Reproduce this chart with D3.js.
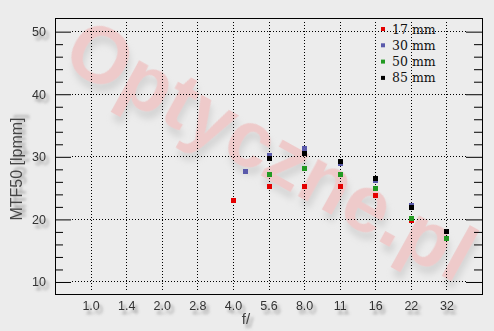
<!DOCTYPE html>
<html>
<head>
<meta charset="utf-8">
<script src="https://cdn.jsdelivr.net/npm/d3@7"></script>
<style>
  body { margin: 0; background: #ececec; }
  svg { display: block; }
</style>
</head>
<body>
<svg width="494" height="331"></svg>
<script>
// f-stop tick labels (evenly spaced, 1/2 stop apart on a log axis)
var fLabels = ['1.0', '1.4', '2.0', '2.8', '4.0', '5.6', '8.0', '11', '16', '22', '32'];

var series = ['17 mm', '30 mm', '50 mm', '85 mm'];
var colors = ['#e40000', '#5a5aab', '#229a22', '#000000'];

// apertures and MTF50 values for each focal length
var f17 = [4.0, 5.6, 8.0, 11, 16, 22];
var v17 = [23.0, 25.2, 25.2, 25.2, 23.8, 19.8];
var f30 = [4.5, 5.6, 8.0, 11, 16, 22];
var v30 = [27.6, 30.2, 31.3, 28.9, 26.2, 22.2];
var f50 = [5.6, 8.0, 11, 16, 22, 32];
var v50 = [27.1, 28.2, 27.1, 25.0, 20.2, 17.0];
var f85 = [5.6, 8.0, 11, 16, 22, 32];
var v85 = [29.8, 30.5, 29.3, 26.6, 21.9, 18.0];

var yMajor = [10, 20, 30, 40, 50];

(function() {
    var svg = d3.select('svg');
    var left = 55, right = 482, top = 18, bottom = 294;

    var defs = svg.append('defs');
    var sh = defs.append('filter').attr('id', 'shadow')
        .attr('x', '-30%').attr('y', '-30%').attr('width', '180%').attr('height', '180%');
    sh.append('feDropShadow')
        .attr('dx', 3).attr('dy', 4).attr('stdDeviation', 1.6)
        .attr('flood-color', '#777').attr('flood-opacity', 0.75);
    var wsh = defs.append('filter').attr('id', 'wshadow')
        .attr('x', '-10%').attr('y', '-30%').attr('width', '130%').attr('height', '180%');
    wsh.append('feDropShadow')
        .attr('dx', 5).attr('dy', 6).attr('stdDeviation', 3)
        .attr('flood-color', '#aaa').attr('flood-opacity', 0.35);

    // the nominal f-number stands for the exact power of sqrt(2)
    function exact(f) {
        for (var i = 0; i < fLabels.length; i++) {
            if (+fLabels[i] === f) return Math.pow(2, i / 2);
        }
        return f;
    }

    var x = d3.scaleLog()
        .domain([Math.SQRT1_2, 32 * Math.SQRT2])
        .range([left, right]);
    var y = d3.scaleLinear().domain([8, 52.1]).range([bottom, top]);

    var stops = fLabels.map(function(d, i) { return Math.pow(2, i / 2); });

    // watermark
    svg.append('text')
        .attr('transform', 'translate(258,174) rotate(29)')
        .attr('text-anchor', 'middle')
        .attr('font-family', 'Liberation Sans, Arial, sans-serif')
        .attr('font-weight', 'bold')
        .attr('font-size', 80)
        .attr('fill', '#eecaca')
        .attr('filter', 'url(#wshadow)')
        .text('Optyczne.pl');

    // dotted grid
    svg.append('g').selectAll('line').data(stops).enter().append('line')
        .attr('x1', function(d) { return Math.round(x(d)) + 0.5; })
        .attr('x2', function(d) { return Math.round(x(d)) + 0.5; })
        .attr('y1', top + 4).attr('y2', bottom - 3)
        .attr('stroke', '#000').attr('stroke-dasharray', '1,2');

    svg.append('g').selectAll('line').data(yMajor).enter().append('line')
        .attr('x1', left + 17).attr('x2', right - 16)
        .attr('y1', function(d) { return Math.round(y(d)) + 0.5; })
        .attr('y2', function(d) { return Math.round(y(d)) + 0.5; })
        .attr('stroke', '#000').attr('stroke-dasharray', '1,2');

    var yMinor = d3.range(10, 52, 2).filter(function(d) { return d % 10 !== 0; });

    function styleAxis(g) {
        g.select('.domain').remove();
        g.selectAll('line').attr('stroke', '#000');
    }

    // left axis
    svg.append('g').attr('transform', 'translate(' + left + ',0.5)')
        .call(d3.axisLeft(y).tickValues(yMinor).tickSize(-8).tickFormat(''))
        .call(styleAxis);
    var yl = svg.append('g').attr('transform', 'translate(' + left + ',0.5)')
        .call(d3.axisLeft(y).tickValues(yMajor).tickSize(-16).tickPadding(9))
        .call(styleAxis);
    yl.selectAll('text')
        .attr('font-family', 'Liberation Sans, Arial, sans-serif')
        .attr('font-size', 12.5).attr('fill', '#333')
        .attr('filter', 'url(#shadow)');

    // right axis
    svg.append('g').attr('transform', 'translate(' + right + ',0.5)')
        .call(d3.axisRight(y).tickValues(yMinor).tickSize(-8).tickFormat(''))
        .call(styleAxis);
    svg.append('g').attr('transform', 'translate(' + right + ',0.5)')
        .call(d3.axisRight(y).tickValues(yMajor).tickSize(-16).tickFormat(''))
        .call(styleAxis);

    // bottom labels
    var xl = svg.append('g').attr('transform', 'translate(0,' + bottom + ')')
        .call(d3.axisBottom(x).tickValues(stops).tickSize(0).tickPadding(7)
            .tickFormat(function(d, i) { return fLabels[i]; }))
        .call(styleAxis);
    xl.selectAll('text')
        .attr('font-family', 'Liberation Sans, Arial, sans-serif')
        .attr('font-size', 12.5).attr('fill', '#333')
        .attr('filter', 'url(#shadow)');

    // frame
    svg.append('rect')
        .attr('x', left + 0.5).attr('y', top + 0.5)
        .attr('width', right - left).attr('height', bottom - top)
        .attr('fill', 'none').attr('stroke', '#000');

    // axis titles
    svg.append('text')
        .attr('transform', 'translate(22,169) rotate(-90)')
        .attr('text-anchor', 'middle')
        .attr('font-family', 'Liberation Sans, Arial, sans-serif')
        .attr('font-size', 16).attr('fill', '#444')
        .attr('filter', 'url(#shadow)')
        .text('MTF50 [lpmm]');
    svg.append('text')
        .attr('x', 246).attr('y', 324)
        .attr('text-anchor', 'middle')
        .attr('font-family', 'Liberation Sans, Arial, sans-serif')
        .attr('font-size', 15).attr('fill', '#444')
        .attr('filter', 'url(#shadow)')
        .text('f/');

    // points
    var fs = [f17, f30, f50, f85], vs = [v17, v30, v50, v85];
    series.forEach(function(name, s) {
        var pts = fs[s].map(function(f, i) { return { f: f, v: vs[s][i] }; });
        svg.append('g').selectAll('rect').data(pts).enter().append('rect')
            .attr('x', function(d) { return Math.round(x(exact(d.f))) - 2; })
            .attr('y', function(d) { return Math.round(y(d.v)) - 2; })
            .attr('width', 5).attr('height', 5)
            .attr('fill', colors[s]);
    });

    // legend
    var lg = svg.append('g').selectAll('g').data(series).enter().append('g')
        .attr('transform', function(d, i) { return 'translate(381,' + (29 + i * 16.3) + ')'; });
    lg.append('rect')
        .attr('x', 0).attr('y', -2).attr('width', 4).attr('height', 4)
        .attr('fill', function(d, i) { return colors[i]; });
    lg.append('text')
        .attr('x', 11).attr('y', 4.5)
        .attr('font-family', 'DejaVu Serif, serif')
        .attr('font-size', 12.5).attr('fill', '#111')
        .text(function(d) { return d; });
})();
</script>
</body>
</html>
